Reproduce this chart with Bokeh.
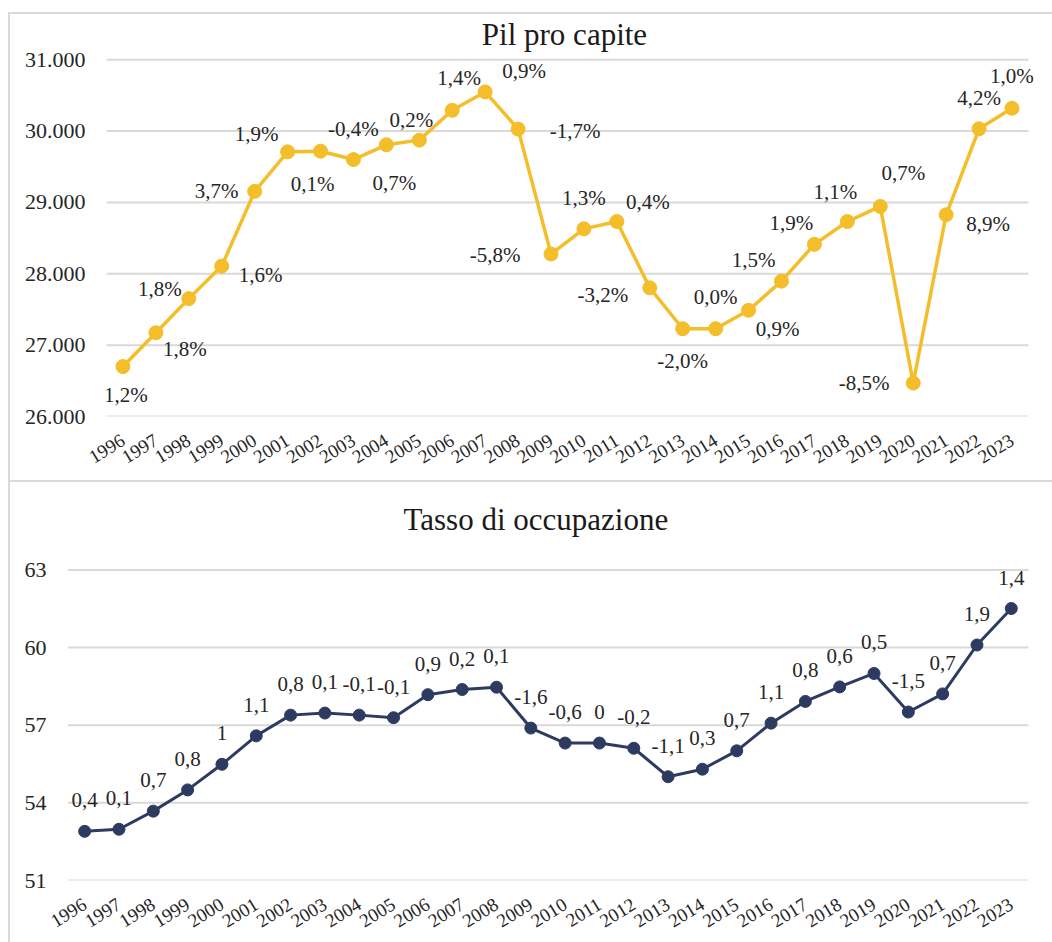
from bokeh.plotting import figure
from bokeh.models import FixedTicker, ColumnDataSource, Label, LabelSet
from bokeh.core.properties import value
from bokeh.embed import file_html
from bokeh.resources import INLINE

# ---------------- data ----------------
years = list(range(1996, 2024))
year_labels = [str(y) for y in years]

pil_title = "Pil pro capite"
pil = [26700, 27173, 27652, 28108, 29155, 29709, 29718, 29601, 29808, 29873,
       30291, 30549, 30028, 28277, 28630, 28732, 27803, 27230, 27230, 27488,
       27897, 28413, 28732, 28944, 26469, 28827, 30032, 30320]
pil_labels = ["1,2%", "1,8%", "1,8%", "1,6%", "3,7%", "1,9%", "0,1%", "-0,4%", "0,7%", "0,2%",
              "1,4%", "0,9%", "-1,7%", "-5,8%", "1,3%", "0,4%", "-3,2%", "-2,0%", "0,0%", "0,9%",
              "1,5%", "1,9%", "1,1%", "0,7%", "-8,5%", "8,9%", "4,2%", "1,0%"]
pil_ticks = [26000, 27000, 28000, 29000, 30000, 31000]
pil_tick_labels = ["26.000", "27.000", "28.000", "29.000", "30.000", "31.000"]

occ_title = "Tasso di occupazione"
occ = [52.90, 52.98, 53.68, 54.50, 55.49, 56.59, 57.39, 57.47, 57.39, 57.29,
       58.18, 58.38, 58.47, 56.89, 56.31, 56.31, 56.11, 55.01, 55.30, 56.01,
       57.08, 57.92, 58.48, 59.00, 57.51, 58.21, 60.10, 61.51]
occ_labels = ["0,4", "0,1", "0,7", "0,8", "1", "1,1", "0,8", "0,1", "-0,1", "-0,1",
              "0,9", "0,2", "0,1", "-1,6", "-0,6", "0", "-0,2", "-1,1", "0,3", "0,7",
              "1,1", "0,8", "0,6", "0,5", "-1,5", "0,7", "1,9", "1,4"]
occ_ticks = [51, 54, 57, 60, 63]
occ_tick_labels = ["51", "54", "57", "60", "63"]

# label placement offsets (pixels, y positive = upwards) for the top chart
pil_dx = [3, 29, -29, 39, -38, -31, -8, 0, 8, -8, 7, 39, 57, -56, 0, 31, -47, 0, 0, 29,
          -28, -23, -12, 23, -49, 42, 0, 0]
pil_dy = [-28, -16, 10, -9, 0, 18, -33, 31, -38, 20, 32, 21, -2, -1, 31, 20, -7, -32, 32, -19,
          21, 21, 30, 33, 0, -9, 31, 32]

FONT = "Liberation Serif"
GOLD = "#F4BD2A"
NAVY = "#2D3B61"
GRID = "#D9D9D9"
TXT = "#262626"
BORDER = {"border-top": "2px solid #D9D9D9", "border-left": "2px solid #D9D9D9"}
X0, X1 = 1995.5, 2023.5
FIG_W = 1044
CONTENT_W = FIG_W - 2
RIGHT_PAD = 6      # frame extends past the gridlines so edge labels are not clipped


def make_panel(height, left, grid_w, grid_h, bottom, ticks, tick_labels):
    # plot area: gridlines span grid_w x grid_h px; the frame is extended up and right
    frame_h = height - 2 - bottom
    frame_w = CONTENT_W - left - RIGHT_PAD
    x_end = X0 + (X1 - X0) * frame_w / grid_w
    y_end = ticks[0] + (ticks[-1] - ticks[0]) * frame_h / grid_h
    p = figure(width=FIG_W, height=height, output_backend="svg", toolbar_location=None,
               x_range=(X0, x_end), y_range=(ticks[0], y_end),
               min_border_left=left, min_border_right=RIGHT_PAD,
               min_border_top=0, min_border_bottom=bottom)
    p.styles = BORDER
    p.xgrid.grid_line_color = None
    p.ygrid.grid_line_color = None
    p.outline_line_color = None
    p.segment(x0=X0, x1=X1, y0=ticks, y1=ticks, line_color=GRID, line_width=2, level="underlay")
    p.yaxis.ticker = FixedTicker(ticks=ticks)
    p.yaxis.major_label_overrides = {t: l for t, l in zip(ticks, tick_labels)}
    p.xaxis.ticker = FixedTicker(ticks=years)
    p.xaxis.major_label_overrides = {y: l for y, l in zip(years, year_labels)}
    p.xaxis.major_label_orientation = 0.55
    for ax in (p.xaxis, p.yaxis):
        ax.axis_line_color = None
        ax.major_tick_line_color = None
        ax.minor_tick_line_color = None
        ax.major_label_text_font = FONT
        ax.major_label_text_color = TXT
    p.yaxis.major_label_text_font_size = "22px"
    p.yaxis.major_label_standoff = 15
    p.xaxis.major_label_text_font_size = "19px"
    p.xaxis.major_label_standoff = 16
    return p


# ---------------- top chart ----------------
p1 = make_panel(468, 96, 920, 355, 66, pil_ticks, pil_tick_labels)
p1.margin = (12, 0, 0, 8)
s1 = ColumnDataSource(dict(x=years, y=pil, t=pil_labels, dx=pil_dx, dy=pil_dy))
p1.line("x", "y", source=s1, line_color=GOLD, line_width=3.5)
p1.scatter("x", "y", source=s1, size=14, fill_color=GOLD, line_color=GOLD)
p1.add_layout(LabelSet(x="x", y="y", text="t", source=s1, x_offset="dx", y_offset="dy",
                       text_font=value(FONT), text_font_size="21px", text_color=TXT,
                       text_align="center", text_baseline="middle"))
p1.add_layout(Label(x=(X0 + X1) / 2, y=pil_ticks[-1], text=pil_title, x_offset=-3, y_offset=25,
                    text_font=FONT, text_font_size="31px", text_color="#1a1a1a",
                    text_align="center", text_baseline="alphabetic"))

# ---------------- bottom chart ----------------
p2 = make_panel(462, 57, 959, 309, 64, occ_ticks, occ_tick_labels)
p2.margin = (0, 0, 0, 8)
s2 = ColumnDataSource(dict(x=years, y=occ, t=occ_labels))
p2.line("x", "y", source=s2, line_color=NAVY, line_width=3)
p2.scatter("x", "y", source=s2, size=12, fill_color=NAVY, line_color=NAVY)
p2.add_layout(LabelSet(x="x", y="y", text="t", source=s2, y_offset=31,
                       text_font=value(FONT), text_font_size="21px", text_color=TXT,
                       text_align="center", text_baseline="middle"))
p2.add_layout(Label(x=X0, y=occ_ticks[-1], text=occ_title, x_offset=336, y_offset=50,
                    text_font=FONT, text_font_size="31px", text_color="#1a1a1a",
                    text_align="left", text_baseline="alphabetic"))

open("out.html", "w").write(file_html([p1, p2], INLINE))
